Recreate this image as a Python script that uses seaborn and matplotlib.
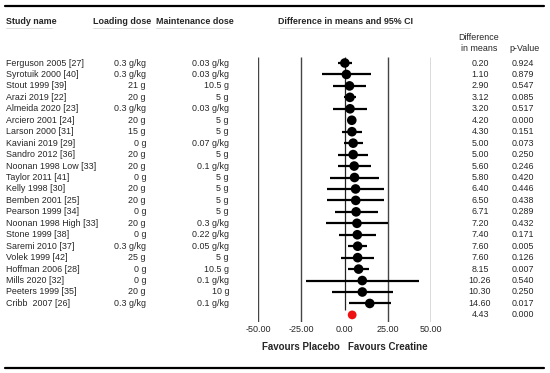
import numpy as np
import pandas as pd
import matplotlib.pyplot as plt
import matplotlib.transforms as mtransforms
from matplotlib.lines import Line2D
import seaborn as sns

studies = ['Ferguson 2005 [27]', 'Syrotuik 2000 [40]', 'Stout 1999 [39]', 'Arazi 2019 [22]',
           'Almeida 2020 [23]', 'Arciero 2001 [24]', 'Larson 2000 [31]', 'Kaviani 2019 [29]',
           'Sandro 2012 [36]', 'Noonan 1998 Low [33]', 'Taylor 2011 [41]', 'Kelly 1998 [30]',
           'Bemben 2001 [25]', 'Pearson 1999 [34]', 'Noonan 1998 High [33]', 'Stone 1999 [38]',
           'Saremi 2010 [37]', 'Volek 1999 [42]', 'Hoffman 2006 [28]', 'Mills 2020 [32]',
           'Peeters 1999 [35]', 'Cribb  2007 [26]']
loading = ['0.3 g/kg', '0.3 g/kg', '21 g', '20 g', '0.3 g/kg', '20 g', '15 g', '0 g', '20 g', '20 g',
           '0 g', '20 g', '20 g', '0 g', '20 g', '0 g', '0.3 g/kg', '25 g', '0 g', '0 g', '20 g', '0.3 g/kg']
maintenance = ['0.03 g/kg', '0.03 g/kg', '10.5 g', '5 g', '0.03 g/kg', '5 g', '5 g', '0.07 g/kg', '5 g',
               '0.1 g/kg', '5 g', '5 g', '5 g', '5 g', '0.3 g/kg', '0.22 g/kg', '0.05 g/kg', '5 g',
               '10.5 g', '0.1 g/kg', '10 g', '0.1 g/kg']
diff = [0.20, 1.10, 2.90, 3.12, 3.20, 4.20, 4.30, 5.00, 5.00, 5.60, 5.80, 6.40, 6.50, 6.71,
        7.20, 7.40, 7.60, 7.60, 8.15, 10.26, 10.30, 14.60]
lower = [-3.9, -13.1, -6.5, -0.4, -6.5, 3.0, -1.6, -0.5, -3.5, -3.9, -8.3, -10.1, -9.9, -5.7,
         -10.8, -3.2, 2.3, -2.1, 2.2, -22.5, -7.3, 2.6]
upper = [4.3, 15.3, 12.3, 6.7, 12.9, 5.4, 10.2, 10.5, 13.5, 15.1, 19.9, 22.9, 22.9, 19.1,
         25.2, 18.0, 12.9, 17.3, 14.1, 43.1, 27.9, 26.6]
pvals = ['0.924', '0.879', '0.547', '0.085', '0.517', '0.000', '0.151', '0.073', '0.250', '0.246',
         '0.420', '0.446', '0.438', '0.289', '0.432', '0.171', '0.005', '0.126', '0.007', '0.540',
         '0.250', '0.017']
overall_diff = 4.43
overall_p = '0.000'
xticks = [-50, -25, 0, 25, 50]

df = pd.DataFrame({'study': studies, 'diff': diff, 'lower': lower, 'upper': upper})
df['row'] = np.arange(len(df))
n = len(df)

sns.set_theme(style='white')
plt.rcParams['font.family'] = ['Liberation Sans', 'DejaVu Sans']

W, H = 550, 373
fig = plt.figure(figsize=(5.5, 3.73), dpi=100)

# forest axes placed in pixel terms
row0, step = 63, 11.45
ax_top, ax_bot = 50, 322
ax = fig.add_axes([258 / W, 1 - ax_bot / H, 173 / W, (ax_bot - ax_top) / H])
ax.set_xlim(-50, 50)
ax.set_ylim((ax_bot - row0) / step, (ax_top - row0) / step)
for s in ax.spines.values():
    s.set_visible(False)
ax.set_yticks([])
ax.set_xticks(xticks)
ax.set_xticklabels([f'{t:.2f}' for t in xticks])
ax.tick_params(axis='x', length=0, pad=2, labelsize=6.5)

ytop = (57 - row0) / step
ax.vlines([-50, -25, 25, 50], ytop, (ax_bot - row0) / step, color='#444444', lw=1.0)
ax.vlines(0, ytop, (310 - row0) / step, color='#222222', lw=0.9)

ax.hlines(df['row'], df['lower'], df['upper'], color='black', lw=1.6, zorder=3)
sns.scatterplot(data=df, x='diff', y='row', color='black', s=48, edgecolor='none', ax=ax, zorder=4)
ax.scatter([overall_diff], [n], color='#ee1111', s=40, edgecolor='none', zorder=4)
ax.set_xlabel('')
ax.set_ylabel('')

# text columns: x in figure pixels, y in row units
tr = mtransforms.blended_transform_factory(
    mtransforms.Affine2D().scale(1 / W, 1) + fig.transFigure, ax.transData)
fs = 6.4
for i in range(n):
    ax.text(6, i, studies[i], transform=tr, fontsize=fs, va='center', ha='left')
    ax.text(146, i, loading[i], transform=tr, fontsize=fs, va='center', ha='right')
    ax.text(229, i, maintenance[i], transform=tr, fontsize=fs, va='center', ha='right')
    ax.text(480, i, f'{diff[i]:.2f}', transform=tr, fontsize=fs, va='center', ha='center')
    ax.text(523, i, pvals[i], transform=tr, fontsize=fs, va='center', ha='center')
ax.text(480, n, f'{overall_diff:.2f}', transform=tr, fontsize=fs, va='center', ha='center')
ax.text(523, n, overall_p, transform=tr, fontsize=fs, va='center', ha='center')


def ftext(x, y, s, size=fs, **kw):
    fig.text(x / W, 1 - y / H, s, fontsize=size, va='center', **kw)


ftext(6, 22, 'Study name', ha='left', fontweight='bold')
ftext(93, 22, 'Loading dose', ha='left', fontweight='bold')
ftext(156, 22, 'Maintenance dose', ha='left', fontweight='bold')
ftext(345, 22, 'Difference in means and 95% CI', ha='center', fontweight='bold')
ftext(479, 38, 'Difference', ha='center')
ftext(479, 48.5, 'in means', ha='center')
ftext(525, 48.5, 'p-Value', ha='center')
ftext(301, 347, 'Favours Placebo', size=7, ha='center', fontweight='bold')
ftext(388, 347, 'Favours Creatine', size=7, ha='center', fontweight='bold')

# faint header underlines
for x0, x1 in [(6, 52), (93, 147), (156, 229), (280, 410)]:
    fig.add_artist(Line2D([x0 / W, x1 / W], [1 - 27.5 / H] * 2, color='#d8d8d8', lw=0.6))

# top and bottom rules
for y in [5.5, 368]:
    fig.add_artist(Line2D([5 / W, 544 / W], [1 - y / H] * 2, color='black', lw=1.6))

fig.savefig('out.png', dpi=100)
